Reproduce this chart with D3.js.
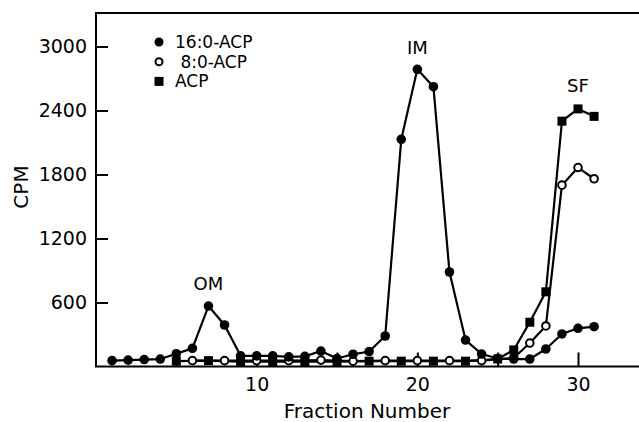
<!DOCTYPE html>
<html>
<head>
<meta charset="utf-8">
<script src="https://cdn.jsdelivr.net/npm/d3@7"></script>
<style>
  html, body { margin: 0; padding: 0; background: #fff; }
  svg { display: block; }
  text { font-family: "DejaVu Sans", sans-serif; fill: #000; }
</style>
</head>
<body>
<svg id="chart" width="639" height="422"></svg>
<script>
// ---- data ----
const fractions16 = d3.range(1, 32);
const values16 = [55, 60, 65, 70, 120, 170, 567, 389, 100, 100, 100, 90, 95, 145, 75, 115, 140, 286,
                  2130, 2786, 2623, 886, 248, 117, 75, 70, 70, 164, 305, 358, 373];
const fractions8 = [6, 8, 10, 12, 14, 16, 18, 20, 22, 24, 26, 27, 28, 29, 30, 31];
const values8 = [55, 55, 55, 55, 60, 50, 55, 55, 55, 55, 80, 220, 380, 1700, 1865, 1760];
const fractionsACP = [5, 7, 9, 11, 13, 15, 17, 19, 21, 23, 25, 26, 27, 28, 29, 30, 31];
const valuesACP = [50, 55, 45, 45, 45, 45, 50, 50, 50, 50, 70, 155, 415, 700, 2300, 2415, 2345];
const yTicks = [600, 1200, 1800, 2400, 3000];
const xTicks = [5, 10, 15, 20, 25, 30];
const xTickLabels = [10, 20, 30];
const legendLabels = ["16:0-ACP", " 8:0-ACP", "ACP"];
const peakLabels = ["OM", "IM", "SF"];
const peakLabelFractions = [7, 20, 30];
const peakLabelValues = [720, 2930, 2575];

// ---- layout ----
const svg = d3.select("#chart");
const plotLeft = 96, plotBottom = 366.5, plotTop = 13;
const x = d3.scaleLinear().domain([0, 34]).range([plotLeft, plotLeft + 34 * 16.067]);
const y = d3.scaleLinear().domain([0, 600]).range([plotBottom, plotBottom - 64]);
const yTop = y.invert(plotTop);

// frame
svg.append("path")
  .attr("d", `M${x(34) + 5},${y(yTop)} H${x(0)} V${y(0)} H${x(34) + 5}`)
  .attr("fill", "none").attr("stroke", "#000").attr("stroke-width", 2);

// axes
const yAxis = d3.axisLeft(y).tickValues(yTicks).tickSize(-12).tickPadding(9)
  .tickFormat(d3.format("d"));
const gy = svg.append("g").attr("transform", `translate(${x(0)},0)`).call(yAxis);
gy.select(".domain").remove();
gy.selectAll(".tick line").attr("stroke", "#000").attr("stroke-width", 2);
gy.selectAll(".tick text").style("font-size", "19px").style("font-family", "DejaVu Sans");

const xAxis = d3.axisBottom(x).tickValues(xTicks).tickSize(-14).tickPadding(11)
  .tickFormat(d => xTickLabels.includes(d) ? String(d) : "");
const gx = svg.append("g").attr("transform", `translate(0,${y(0)})`).call(xAxis);
gx.select(".domain").remove();
gx.selectAll(".tick line").attr("stroke", "#000").attr("stroke-width", 2);
gx.selectAll(".tick text").style("font-size", "19px").style("font-family", "DejaVu Sans");

// axis titles
svg.append("text").attr("transform", `translate(28,${187}) rotate(-90)`)
  .attr("text-anchor", "middle").style("font-size", "20px").text("CPM");
svg.append("text").attr("x", 367).attr("y", 418)
  .attr("text-anchor", "middle").style("font-size", "20px").text("Fraction Number");

// series
const line = d3.line().x(d => x(d[0])).y(d => y(d[1]));
const s16 = fractions16.map((f, i) => [f, values16[i]]);
const s8 = fractions8.map((f, i) => [f, values8[i]]);
const sA = fractionsACP.map((f, i) => [f, valuesACP[i]]);

[sA, s8, s16].forEach(s => {
  svg.append("path").datum(s).attr("d", line)
    .attr("fill", "none").attr("stroke", "#000").attr("stroke-width", 2.2)
    .attr("stroke-linejoin", "round");
});

svg.append("g").selectAll("rect").data(sA).join("rect")
  .attr("x", d => x(d[0]) - 4.5).attr("y", d => y(d[1]) - 4.5)
  .attr("width", 9).attr("height", 9).attr("fill", "#000");
svg.append("g").selectAll("circle").data(s8).join("circle")
  .attr("cx", d => x(d[0])).attr("cy", d => y(d[1])).attr("r", 3.8)
  .attr("fill", "#fff").attr("stroke", "#000").attr("stroke-width", 2);
svg.append("g").selectAll("circle").data(s16).join("circle")
  .attr("cx", d => x(d[0])).attr("cy", d => y(d[1])).attr("r", 4.8)
  .attr("fill", "#000");

// peak labels
svg.append("g").selectAll("text").data(peakLabels).join("text")
  .attr("x", (d, i) => x(peakLabelFractions[i]))
  .attr("y", (d, i) => y(peakLabelValues[i]))
  .attr("text-anchor", "middle").style("font-size", "18px").text(d => d);

// legend
const lg = svg.append("g").attr("transform", "translate(159,42)");
const rowH = 19.7;
lg.append("circle").attr("cx", 0).attr("cy", 0).attr("r", 4.5).attr("fill", "#000");
lg.append("circle").attr("cx", 0).attr("cy", rowH).attr("r", 3.5)
  .attr("fill", "#fff").attr("stroke", "#000").attr("stroke-width", 2);
lg.append("rect").attr("x", -4.5).attr("y", 2 * rowH - 4.5).attr("width", 9).attr("height", 9).attr("fill", "#000");
lg.selectAll("text").data(legendLabels).join("text")
  .attr("x", 16).attr("y", (d, i) => i * rowH + 6)
  .attr("xml:space", "preserve")
  .style("white-space", "pre")
  .style("font-size", "17px").text(d => d);
</script>
</body>
</html>
